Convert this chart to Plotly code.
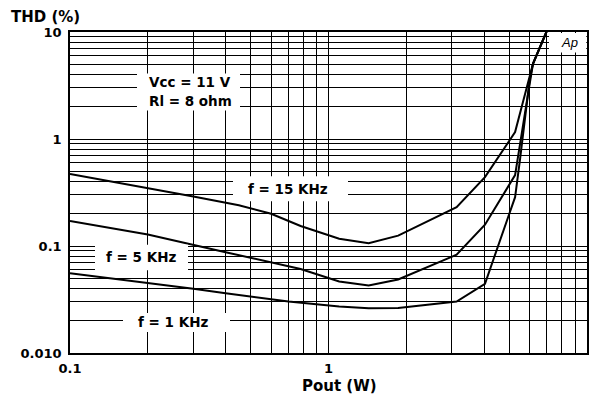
import plotly.graph_objects as go

# ---- data ----
pout_15k = [0.1, 0.2, 0.3, 0.45, 0.6, 0.78, 1.1, 1.43, 1.86, 3.13, 4.03, 5.27, 6.18, 7.0]
thd_15k = [0.47, 0.35, 0.29, 0.24, 0.20, 0.154, 0.117, 0.106, 0.125, 0.231, 0.44, 1.16, 5.05, 10.3]

pout_5k = [0.1, 0.2, 0.4, 0.78, 1.1, 1.43, 1.86, 3.13, 4.03, 5.27, 5.93, 6.18, 7.0]
thd_5k = [0.171, 0.128, 0.0875, 0.061, 0.0466, 0.0427, 0.0486, 0.0828, 0.158, 0.46, 2.74, 5.05, 10.3]

pout_1k = [0.1, 0.2, 0.3, 0.4, 0.7, 1.1, 1.43, 1.86, 3.13, 4.03, 5.27, 5.51, 6.01, 6.18, 7.0]
thd_1k = [0.0557, 0.0453, 0.0398, 0.0362, 0.0303, 0.0272, 0.0262, 0.0264, 0.0303, 0.0444,
          0.286, 0.653, 3.66, 5.05, 10.3]

x_tickvals = [0.1, 1, 10]
x_ticktext = ["0.1", "1", "10"]
y_tickvals = [0.01, 0.1, 1, 10]
y_ticktext = ["0.010", "0.1", "1", "10"]

FONT = "DejaVu Sans"
W, H = 594, 406
L, R, T, B = 70, 7, 31.5, 53
PW, PH = W - L - R, H - T - B


def px(xp):
    return (xp - L) / PW


def py(yp):
    return (H - B - yp) / PH


fig = go.Figure()
for xs, ys in [(pout_15k, thd_15k), (pout_5k, thd_5k), (pout_1k, thd_1k)]:
    fig.add_trace(go.Scatter(x=xs, y=ys, mode="lines",
                             line=dict(color="black", width=2),
                             showlegend=False, hoverinfo="skip"))

# white label boxes that interrupt the grid (kept clear of the curves)
boxes = [(137, 73, 240, 110), (233, 176, 348, 201), (95, 244.5, 188, 270),
         (123, 313, 230, 332), (549, 32.5, 586.3, 52)]
for x0, y0, x1, y1 in boxes:
    fig.add_shape(type="rect", xref="paper", yref="paper",
                  x0=px(x0), x1=px(x1), y0=py(y1), y1=py(y0),
                  fillcolor="white", line=dict(width=0), layer="above")

bold = dict(family=FONT, color="black", weight="bold")
labels = [("Vcc = 11 V", 190, 82, 13.5), ("Rl = 8 ohm", 190, 101, 13.5),
          ("f = 15 KHz", 288, 189, 13.5), ("f = 5 KHz", 141, 257, 13.5),
          ("f = 1 KHz", 173, 322, 13.5)]
for txt, xp, yp, sz in labels:
    fig.add_annotation(text=txt, xref="paper", yref="paper", x=px(xp), y=py(yp),
                       showarrow=False, xanchor="center", yanchor="middle",
                       font=dict(size=sz, **bold))

fig.add_annotation(text="<i>Ap</i>", xref="paper", yref="paper", x=px(569), y=py(42),
                   showarrow=False, xanchor="center", yanchor="middle",
                   font=dict(family="Liberation Sans", size=13, color="black"))
fig.add_annotation(text="THD (%)", xref="paper", yref="paper", x=px(9), y=py(16),
                   showarrow=False, xanchor="left", yanchor="middle",
                   font=dict(size=15, **bold))
fig.add_annotation(text="Pout (W)", xref="paper", yref="paper", x=px(339), y=py(386),
                   showarrow=False, xanchor="center", yanchor="middle",
                   font=dict(size=15, **bold))

axis_common = dict(type="log", showgrid=True, gridcolor="black", gridwidth=1.2,
                   showline=True, linecolor="black", linewidth=1.5, mirror=True,
                   ticks="", zeroline=False, automargin=False,
                   tickfont=dict(size=13, **bold),
                   minor=dict(dtick="D1", showgrid=True, gridcolor="black", gridwidth=1))

fig.update_xaxes(range=[-1, 1], tickvals=x_tickvals, ticktext=x_ticktext,
                 ticklabelstandoff=3, **axis_common)
fig.update_yaxes(range=[-2, 1], tickvals=y_tickvals, ticktext=y_ticktext,
                 ticklabelstandoff=4, **axis_common)

fig.update_layout(width=W, height=H, margin=dict(l=L, r=R, t=T, b=B),
                  plot_bgcolor="white", paper_bgcolor="white",
                  font=dict(family=FONT, color="black"))

fig.write_html("out.html", config={"displayModeBar": False},
               post_script="document.body.style.margin='0';document.body.style.overflow='hidden';")
